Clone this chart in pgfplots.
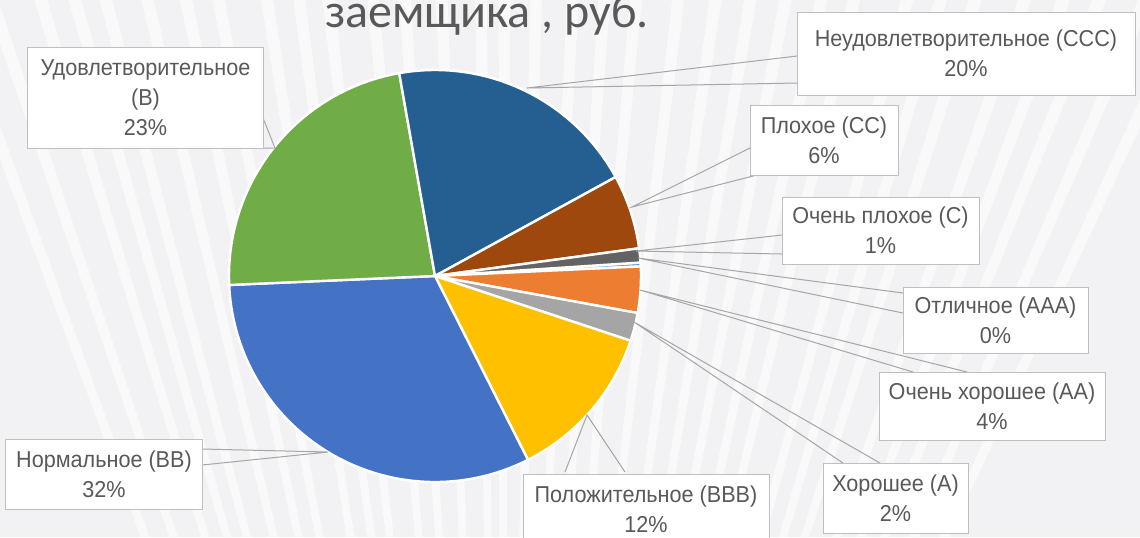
\documentclass[border=0pt]{standalone}
\usepackage{pgfplots}
\pgfplotsset{compat=1.18}
\usepackage{fontspec}
\setmainfont{Liberation Sans}
\newfontfamily\titlefont{Carlito}
\newfontfamily\labelfont[FakeStretch=0.94]{Liberation Sans}

\definecolor{bgc}{HTML}{F2F2F4}
\definecolor{txt}{HTML}{595959}
\definecolor{boxc}{HTML}{BFBFBF}
\definecolor{leadc}{HTML}{A6A6A6}
\definecolor{cAAA}{HTML}{5B9BD5}
\definecolor{cAA}{HTML}{ED7D31}
\definecolor{cA}{HTML}{A5A5A5}
\definecolor{cBBB}{HTML}{FFC000}
\definecolor{cBB}{HTML}{4472C4}
\definecolor{cB}{HTML}{70AD47}
\definecolor{cCCC}{HTML}{255E91}
\definecolor{cCC}{HTML}{9E480E}
\definecolor{cC}{HTML}{636363}

% pie: centre (435,276), radius 206 px = 103pt; angles clockwise from top
\def\pietotal{99.5}
\def\pieacc{86.24}
\newcommand\pieslice[2]{%
  \pgfmathsetmacro\angA{\pieacc}%
  \pgfmathsetmacro\angB{\pieacc+#1*360/\pietotal}%
  \pgfmathsetmacro\phiA{90-\angA}%
  \pgfmathsetmacro\phiB{90-\angB}%
  \edef\tmp{\noexpand\fill[#2,draw=white,line width=1.2pt,line join=round]
    (axis cs:435,276) -- ++(\phiA:103pt)
    arc[start angle=\phiA,end angle=\phiB,radius=103pt] -- cycle;}%
  \tmp
  \xdef\pieacc{\angB}}

\tikzset{lbl/.style={draw=boxc,line width=0.5pt,fill=white,align=center,
    text=txt,inner sep=0pt,font=\labelfont\fontsize{11.5}{15}\selectfont},
  lead/.style={draw=leadc,line width=0.5pt}}

\begin{document}
\begin{tikzpicture}
\begin{axis}[
    scale only axis,
    width=570pt, height=268.5pt,
    xmin=0, xmax=1140, ymin=0, ymax=537,
    y dir=reverse,
    hide axis, clip=false,
  ]
  % background
  \fill[bgc] (axis cs:0,0) rectangle (axis cs:1140,537);
  \pgfplotsinvokeforeach{65,66.5,68,69.2,70.5,72.2,73.4,74.6,76.5,77.7,79,80.3,81.6,83,84.6,85.8,87,88.4,89.6,90.5,92,93.4,94.6,96.3,97.4,98.6,100.4,101.6,103,104.5,105.6,106.8,108.5,110}{
    \fill[white,opacity=0.6] (axis cs:500,1500) -- +(#1:980pt) -- +({#1+0.45}:980pt) -- cycle;
  }

  % slices (value %, colour), in data order
  \pieslice{0.3}{cAAA}  % Отличное (AAA)
  \pieslice{3.6}{cAA}   % Очень хорошее (AA)
  \pieslice{2.2}{cA}    % Хорошее (A)
  \pieslice{12.4}{cBBB} % Положительное (BBB)
  \pieslice{31.6}{cBB}  % Нормальное (BB)
  \pieslice{22.8}{cB}   % Удовлетворительное (B)
  \pieslice{19.7}{cCCC} % Неудовлетворительное (CCC)
  \pieslice{5.8}{cCC}   % Плохое (CC)
  \pieslice{1.1}{cC}    % Очень плохое (C)

  % leader lines
  \draw[lead] (axis cs:797,56) -- (axis cs:527,88) -- (axis cs:797,83);
  \draw[lead] (axis cs:750,148) -- (axis cs:632,207) -- (axis cs:757,175);
  \draw[lead] (axis cs:782,235) -- (axis cs:636,251) -- (axis cs:782,254);
  \draw[lead] (axis cs:903,293) -- (axis cs:638,258) -- (axis cs:903,313);
  \draw[lead] (axis cs:913,372) -- (axis cs:640,290) -- (axis cs:967,372);
  \draw[lead] (axis cs:843,463) -- (axis cs:634,322) -- (axis cs:880,463);
  \draw[lead] (axis cs:565,472) -- (axis cs:587,415) -- (axis cs:625,472);
  \draw[lead] (axis cs:202,449) -- (axis cs:328,452) -- (axis cs:202,465);
  \draw[lead] (axis cs:263,118) -- (axis cs:275,148) -- (axis cs:258,148);

  % labels
  \node[lbl,minimum width=169pt,minimum height=41.5pt] at (axis cs:966,53.5)
    {Неудовлетворительное (CCC)\\20\%};
  \node[lbl,minimum width=74pt,minimum height=35pt] at (axis cs:824,140)
    {Плохое (CC)\\6\%};
  \node[lbl,minimum width=98.5pt,minimum height=33.5pt] at (axis cs:880.5,230.5)
    {Очень плохое (C)\\1\%};
  \node[lbl,minimum width=92.5pt,minimum height=33pt] at (axis cs:995.5,320)
    {Отличное (AAA)\\0\%};
  \node[lbl,minimum width=113pt,minimum height=34pt] at (axis cs:992,406)
    {Очень хорошее (AA)\\4\%};
  \node[lbl,minimum width=72.5pt,minimum height=35pt] at (axis cs:895.5,498)
    {Хорошее (A)\\2\%};
  \node[lbl,minimum width=123pt,minimum height=35pt] at (axis cs:646,509)
    {Положительное (BBB)\\12\%};
  \node[lbl,minimum width=98pt,minimum height=35pt] at (axis cs:104,474)
    {Нормальное (BB)\\32\%};
  \node[lbl,minimum width=117.5pt,minimum height=50.5pt] at (axis cs:145.5,97.5)
    {Удовлетворительное\\(B)\\23\%};

  % title (its first line lies above the picture, as in the source)
  \node[anchor=base,text=txt,inner sep=0pt,font=\titlefont\fontsize{24}{28}\selectfont]
    at (axis cs:487,27) {заемщика , руб.};
\end{axis}
\pgfresetboundingbox
\useasboundingbox (current axis.south west) rectangle (current axis.north east);
\end{tikzpicture}
\end{document}
